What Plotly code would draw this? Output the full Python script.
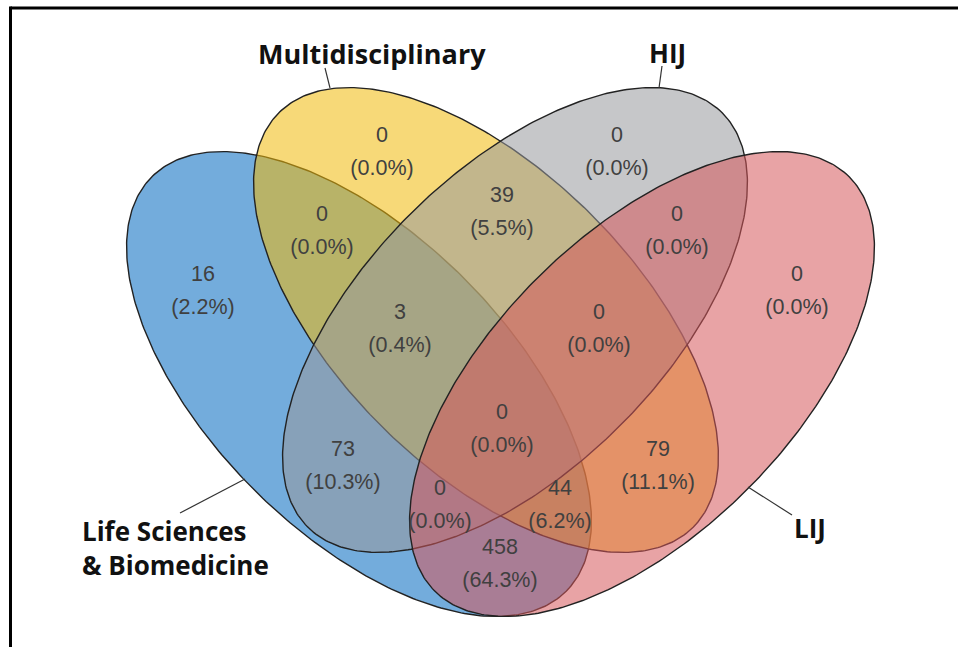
import numpy as np
import plotly.graph_objects as go

# ---------------- data ----------------
set_names = ["Life Sciences<br>& Biomedicine", "Multidisciplinary", "HIJ", "LIJ"]
region_keys = ["A", "B", "C", "D", "AB", "BC", "CD", "ABC", "BCD", "ABCD",
               "AC", "BD", "ACD", "ABD", "AD"]
region_counts = [16, 0, 0, 0, 0, 39, 0, 3, 0, 0, 73, 79, 0, 44, 458]

# ---------------- layout / style ----------------
W, H = 958, 647
fill_colors = ["rgba(0,104,191,0.55)", "rgba(240,186,10,0.55)",
               "rgba(151,153,157,0.55)", "rgba(213,88,91,0.55)"]
# ellipse geometry in pixel space: cx, cy, semi-major, semi-minor, angle (deg, screen)
ellipses = [(359, 384, 293, 149, 45), (486, 320, 293, 149, 45),
            (515, 320, 293, 149, -45), (642, 384, 293, 149, -45)]
region_pos = {
    "A": (203, 292), "B": (382, 153), "C": (617, 153), "D": (797, 292),
    "AB": (322, 232), "BC": (502, 213), "CD": (677, 232),
    "ABC": (400, 330), "BCD": (599, 330), "ABCD": (502, 430),
    "AC": (343, 467), "BD": (658, 467), "ACD": (440, 506), "ABD": (560, 506),
    "AD": (500, 565),
}
label_pos = [(80, 548, "left"), (372, 53, "center"), (667, 53, "center"), (810, 528, "center")]
label_sizes = [26, 27, 26, 26]
leader_lines = [((180, 513), (245, 479)), ((325, 68), (330, 88)),
                ((662, 66), (659, 88)), ((748, 487), (792, 515))]

fig = go.Figure()

t = np.linspace(0, 2 * np.pi, 400)
for (cx, cy, a, b, ang), fc in zip(ellipses, fill_colors):
    th = np.deg2rad(ang)
    x = cx + a * np.cos(t) * np.cos(th) - b * np.sin(t) * np.sin(th)
    y = cy + a * np.cos(t) * np.sin(th) + b * np.sin(t) * np.cos(th)
    fig.add_trace(go.Scatter(x=x, y=y, mode="lines", fill="toself", fillcolor=fc,
                             line=dict(color="#222222", width=1.4),
                             hoverinfo="skip", showlegend=False))

total = sum(region_counts)
nx, ny, nt, px, py, pt = [], [], [], [], [], []
for k, c in zip(region_keys, region_counts):
    x0, y0 = region_pos[k]
    nx.append(x0); ny.append(y0 - 16.5); nt.append(str(c))
    px.append(x0); py.append(y0 + 16.5); pt.append("(%.1f%%)" % (100 * c / total))
fig.add_trace(go.Scatter(x=nx + px, y=ny + py, text=nt + pt, mode="text",
                         textfont=dict(family="Liberation Sans, Arial", size=21.5, color="#404040"),
                         hoverinfo="skip", showlegend=False))

for (p0, p1) in leader_lines:
    fig.add_trace(go.Scatter(x=[p0[0], p1[0]], y=[p0[1], p1[1]], mode="lines",
                             line=dict(color="#333333", width=1.2),
                             hoverinfo="skip", showlegend=False))

for name, (lx, ly, al), fs in zip(set_names, label_pos, label_sizes):
    fig.add_annotation(x=lx, y=ly, text="<b>%s</b>" % name, showarrow=False,
                       xanchor=al, yanchor="middle", align="left",
                       font=dict(family="Open Sans", size=fs, color="#111111"))

# picture frame: only the top and left edges are visible in the crop
fig.add_shape(type="line", xref="paper", yref="paper", x0=10.5 / W, y0=1 - 8 / H,
              x1=1, y1=1 - 8 / H, line=dict(color="black", width=3), layer="above")
fig.add_shape(type="line", xref="paper", yref="paper", x0=10.5 / W, y0=1 - 6.5 / H,
              x1=10.5 / W, y1=0, line=dict(color="black", width=3), layer="above")

fig.update_layout(width=W, height=H, margin=dict(l=0, r=0, t=0, b=0),
                  paper_bgcolor="white", plot_bgcolor="white",
                  xaxis=dict(range=[0, W], visible=False, fixedrange=True),
                  yaxis=dict(range=[H, 0], visible=False, fixedrange=True),
                  showlegend=False)
fig.write_html("out.html", config={"displayModeBar": False})

# remove the default page margin so the figure sits at the window origin
with open("out.html", encoding="utf-8") as f:
    html = f.read()
html = html.replace("<head>", "<head><style>html,body{margin:0;padding:0;overflow:hidden;}</style>", 1)
with open("out.html", "w", encoding="utf-8") as f:
    f.write(html)
